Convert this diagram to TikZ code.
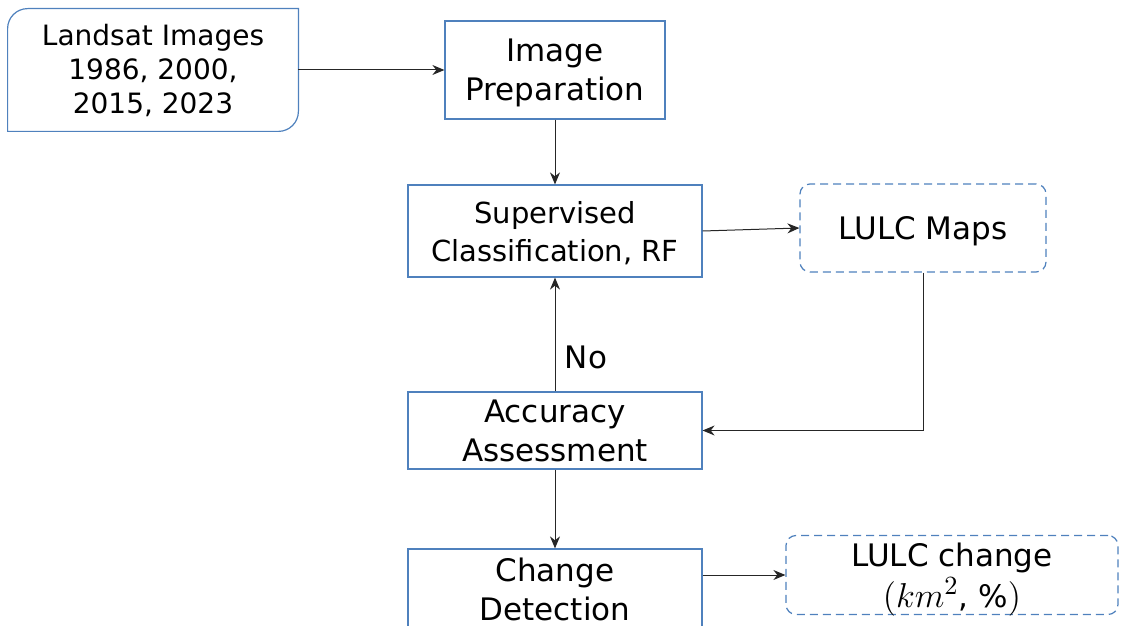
\documentclass[tikz,border=0pt]{standalone}
\usepackage{fontspec}
\setmainfont{DejaVu Sans}
\usepackage{tikz}
\usetikzlibrary{arrows.meta,calc}
\definecolor{boxblue}{RGB}{79,129,189}

\begin{document}
\begin{tikzpicture}[x=0.5pt,y=-0.5pt]
\tikzset{
	plain box/.style = {rectangle, draw = boxblue, line width = 0.6pt, inner sep = 0, align = center, text depth = 0pt, font = \fontsize{15.5}{19.5}\selectfont},
	dashed box/.style = {plain box, rounded corners = 5pt, dash pattern = on 4pt off 2.5pt},
	flow/.style = {draw = black!85, line width = 0.5pt, -{Stealth[length = 6pt, width = 5pt]}}
}
\useasboundingbox (0,0) rectangle (1121,626);

\node(landsat)[rectangle, inner sep = 0, minimum width = 145pt, minimum height = 61pt, align = center, font = \fontsize{14}{17}\selectfont] at (153,70) {Landsat Images\\1986, 2000,\\2015, 2023};
\draw[draw = boxblue, line width = 0.6pt] ([xshift = 10pt]landsat.north west) -- (landsat.north east) -- ([yshift = 10pt]landsat.south east) arc[start angle = 0, end angle = -90, radius = 10pt] -- (landsat.south west) -- ([yshift = -10pt]landsat.north west) arc[start angle = 180, end angle = 90, radius = 10pt] -- cycle;

\node(prep)[plain box, minimum width = 110pt, minimum height = 49pt] at (555,70) {Image\\Preparation};
\node(sup)[plain box, minimum width = 147pt, minimum height = 46pt, font = \fontsize{14.5}{19}\selectfont] at (555,231) {Supervised\\Classification,\ RF};
\node(maps)[dashed box, minimum width = 123pt, minimum height = 44pt] at (923,228) {LULC Maps};
\node(acc)[plain box, minimum width = 147pt, minimum height = 38.5pt] at (555,430.5) {Accuracy\\Assessment};
\node(chg)[plain box, minimum width = 147pt, minimum height = 40pt] at (555,589) {Change\\Detection};
\node(lch)[dashed box, minimum width = 166pt, minimum height = 39.5pt] at (952,575) {LULC change\\[1pt]\scalebox{1.2}{$(km^2$}, \%\scalebox{1.2}{$)$}};
\node(no)[font = \fontsize{15.5}{19.5}\selectfont] at (586,357) {No};

\draw[flow] (landsat.east) -- (prep.west);
\draw[flow] (prep.south) -- (sup.north);
\draw[flow] (sup.east) -- (maps.west);
\draw[flow] (maps.south) |- (acc.east);
\draw[flow] (acc.north) -- (sup.south);
\draw[flow] (acc.south) -- (chg.north);
\draw[flow] (chg.east |- lch.west) -- (lch.west);
\end{tikzpicture}
\end{document}
